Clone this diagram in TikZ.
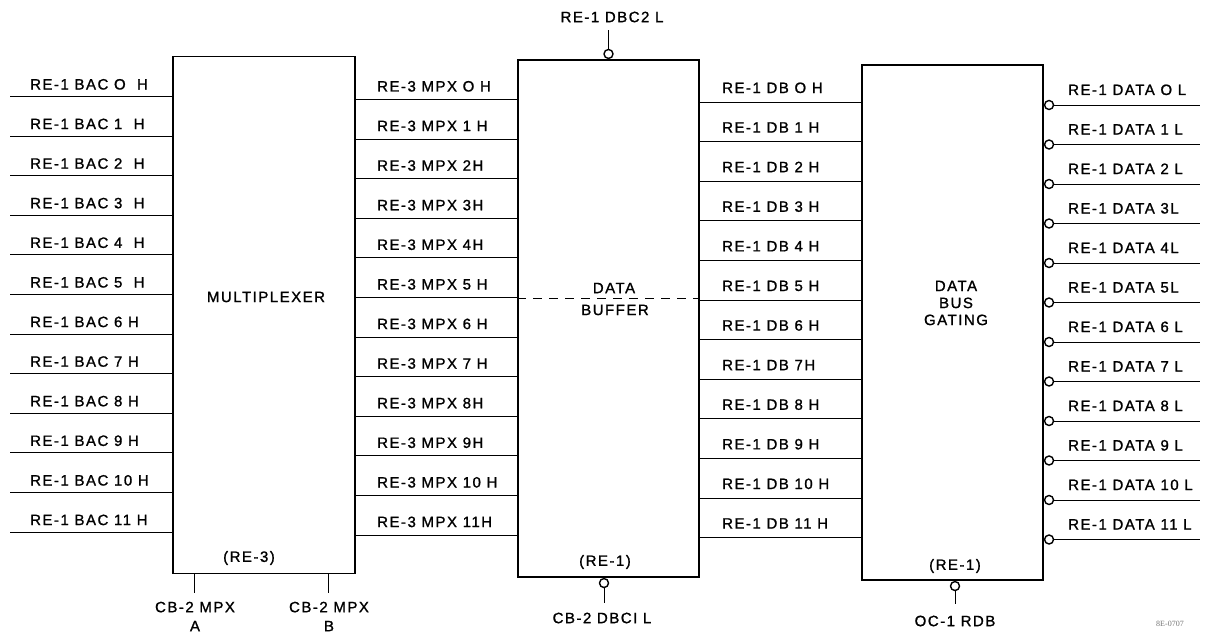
\documentclass[tikz,border=0pt]{standalone}
\usepackage{fontspec}
\usetikzlibrary{positioning,calc}
\newfontfamily\lblfont{Liberation Sans}[LetterSpace=10,FakeBold=1.2]
\newfontfamily\tagfont{Liberation Serif}
\tikzset{
  blk/.style={draw, rectangle, line width=1.7pt, inner sep=0pt},
  wire/.style={line width=0.9pt},
  bub/.style={draw, circle, fill=white, line width=1.4pt, minimum size=9pt, inner sep=0pt},
  sig/.style={anchor=base west, inner sep=0pt, font=\lblfont\fontsize{15}{16}\selectfont},
  ttl/.style={align=center, inner sep=0pt, font=\lblfont\fontsize{15}{17}\selectfont},
  pin/.style={align=center, inner sep=0pt, font=\lblfont\fontsize{15}{19}\selectfont},
}
\begin{document}
\begin{tikzpicture}[x=1pt,y=-1pt]
\useasboundingbox (0,0) rectangle (1207,634);
\node[blk, minimum width=182pt, minimum height=517pt] (mux) at (264,315) {};
\node[blk, minimum width=181pt, minimum height=517pt] (buf) at (608.5,318.5) {};
\node[blk, minimum width=181pt, minimum height=515pt] (gate) at (952.5,322.5) {};
\node[ttl] (muxl) at (266,297) {MULTIPLEXER};
\node[ttl] (bufl1) at (614,288) {DATA};
\node[ttl] (bufl2) at (615,310) {BUFFER};
\node[ttl] (gatel) at (956,303) {DATA\\BUS\\GATING};
\node[ttl] (muxre) at (249,558) {(RE-3)};
\node[ttl] (bufre) at (605,562) {(RE-1)};
\node[ttl] (gatere) at (955,566) {(RE-1)};
\coordinate (split) at (0,298);
\draw[wire, dash pattern=on 9pt off 7pt] (buf.west |- split) -- (buf.east |- split);
% bus address inputs
\node[sig] (ta0) at (30,89.5) {RE-1 BAC O\ \ H}; \coordinate (a0) at (10,96.5); \draw[wire] (a0) -- (a0 -| mux.west);
\node[sig] (ta1) at (30,129.1) {RE-1 BAC 1\ \ H}; \coordinate (a1) at (10,136.1); \draw[wire] (a1) -- (a1 -| mux.west);
\node[sig] (ta2) at (30,168.7) {RE-1 BAC 2\ \ H}; \coordinate (a2) at (10,175.7); \draw[wire] (a2) -- (a2 -| mux.west);
\node[sig] (ta3) at (30,208.3) {RE-1 BAC 3\ \ H}; \coordinate (a3) at (10,215.3); \draw[wire] (a3) -- (a3 -| mux.west);
\node[sig] (ta4) at (30,247.9) {RE-1 BAC 4\ \ H}; \coordinate (a4) at (10,254.9); \draw[wire] (a4) -- (a4 -| mux.west);
\node[sig] (ta5) at (30,287.5) {RE-1 BAC 5\ \ H}; \coordinate (a5) at (10,294.5); \draw[wire] (a5) -- (a5 -| mux.west);
\node[sig] (ta6) at (30,327.1) {RE-1 BAC 6 H}; \coordinate (a6) at (10,334.1); \draw[wire] (a6) -- (a6 -| mux.west);
\node[sig] (ta7) at (30,366.7) {RE-1 BAC 7 H}; \coordinate (a7) at (10,373.7); \draw[wire] (a7) -- (a7 -| mux.west);
\node[sig] (ta8) at (30,406.3) {RE-1 BAC 8 H}; \coordinate (a8) at (10,413.3); \draw[wire] (a8) -- (a8 -| mux.west);
\node[sig] (ta9) at (30,445.9) {RE-1 BAC 9 H}; \coordinate (a9) at (10,452.9); \draw[wire] (a9) -- (a9 -| mux.west);
\node[sig] (ta10) at (30,485.5) {RE-1 BAC 10 H}; \coordinate (a10) at (10,492.5); \draw[wire] (a10) -- (a10 -| mux.west);
\node[sig] (ta11) at (30,525.1) {RE-1 BAC 11 H}; \coordinate (a11) at (10,532.1); \draw[wire] (a11) -- (a11 -| mux.west);
% multiplexer outputs
\node[sig] (tm0) at (377,91.5) {RE-3 MPX O H}; \coordinate (m0) at (mux.east |- 0,99.5); \draw[wire] (m0) -- (m0 -| buf.west);
\node[sig] (tm1) at (377,131.1) {RE-3 MPX 1 H}; \coordinate (m1) at (mux.east |- 0,139.1); \draw[wire] (m1) -- (m1 -| buf.west);
\node[sig] (tm2) at (377,170.7) {RE-3 MPX 2H}; \coordinate (m2) at (mux.east |- 0,178.7); \draw[wire] (m2) -- (m2 -| buf.west);
\node[sig] (tm3) at (377,210.3) {RE-3 MPX 3H}; \coordinate (m3) at (mux.east |- 0,218.3); \draw[wire] (m3) -- (m3 -| buf.west);
\node[sig] (tm4) at (377,249.9) {RE-3 MPX 4H}; \coordinate (m4) at (mux.east |- 0,257.9); \draw[wire] (m4) -- (m4 -| buf.west);
\node[sig] (tm5) at (377,289.5) {RE-3 MPX 5 H}; \coordinate (m5) at (mux.east |- 0,297.5); \draw[wire] (m5) -- (m5 -| buf.west);
\node[sig] (tm6) at (377,329.1) {RE-3 MPX 6 H}; \coordinate (m6) at (mux.east |- 0,337.1); \draw[wire] (m6) -- (m6 -| buf.west);
\node[sig] (tm7) at (377,368.7) {RE-3 MPX 7 H}; \coordinate (m7) at (mux.east |- 0,376.7); \draw[wire] (m7) -- (m7 -| buf.west);
\node[sig] (tm8) at (377,408.3) {RE-3 MPX 8H}; \coordinate (m8) at (mux.east |- 0,416.3); \draw[wire] (m8) -- (m8 -| buf.west);
\node[sig] (tm9) at (377,447.9) {RE-3 MPX 9H}; \coordinate (m9) at (mux.east |- 0,455.9); \draw[wire] (m9) -- (m9 -| buf.west);
\node[sig] (tm10) at (377,487.5) {RE-3 MPX 10 H}; \coordinate (m10) at (mux.east |- 0,495.5); \draw[wire] (m10) -- (m10 -| buf.west);
\node[sig] (tm11) at (377,527.1) {RE-3 MPX 11H}; \coordinate (m11) at (mux.east |- 0,535.1); \draw[wire] (m11) -- (m11 -| buf.west);
% data buffer outputs
\node[sig] (td0) at (722,93) {RE-1 DB O H}; \coordinate (d0) at (buf.east |- 0,102); \draw[wire] (d0) -- (d0 -| gate.west);
\node[sig] (td1) at (722,132.6) {RE-1 DB 1 H}; \coordinate (d1) at (buf.east |- 0,141.6); \draw[wire] (d1) -- (d1 -| gate.west);
\node[sig] (td2) at (722,172.2) {RE-1 DB 2 H}; \coordinate (d2) at (buf.east |- 0,181.2); \draw[wire] (d2) -- (d2 -| gate.west);
\node[sig] (td3) at (722,211.8) {RE-1 DB 3 H}; \coordinate (d3) at (buf.east |- 0,220.8); \draw[wire] (d3) -- (d3 -| gate.west);
\node[sig] (td4) at (722,251.4) {RE-1 DB 4 H}; \coordinate (d4) at (buf.east |- 0,260.4); \draw[wire] (d4) -- (d4 -| gate.west);
\node[sig] (td5) at (722,291) {RE-1 DB 5 H}; \coordinate (d5) at (buf.east |- 0,300); \draw[wire] (d5) -- (d5 -| gate.west);
\node[sig] (td6) at (722,330.6) {RE-1 DB 6 H}; \coordinate (d6) at (buf.east |- 0,339.6); \draw[wire] (d6) -- (d6 -| gate.west);
\node[sig] (td7) at (722,370.2) {RE-1 DB 7H}; \coordinate (d7) at (buf.east |- 0,379.2); \draw[wire] (d7) -- (d7 -| gate.west);
\node[sig] (td8) at (722,409.8) {RE-1 DB 8 H}; \coordinate (d8) at (buf.east |- 0,418.8); \draw[wire] (d8) -- (d8 -| gate.west);
\node[sig] (td9) at (722,449.4) {RE-1 DB 9 H}; \coordinate (d9) at (buf.east |- 0,458.4); \draw[wire] (d9) -- (d9 -| gate.west);
\node[sig] (td10) at (722,489) {RE-1 DB 10 H}; \coordinate (d10) at (buf.east |- 0,498); \draw[wire] (d10) -- (d10 -| gate.west);
\node[sig] (td11) at (722,528.6) {RE-1 DB 11 H}; \coordinate (d11) at (buf.east |- 0,537.6); \draw[wire] (d11) -- (d11 -| gate.west);
% gated data outputs
\node[sig] (tq0) at (1068,95) {RE-1 DATA O L}; \node[bub, anchor=west] (n0) at (gate.east |- 0,105) {}; \coordinate (q0) at (1200,105); \draw[wire] (n0) -- (q0);
\node[sig] (tq1) at (1068,134.5) {RE-1 DATA 1 L}; \node[bub, anchor=west] (n1) at (gate.east |- 0,144.5) {}; \coordinate (q1) at (1200,144.5); \draw[wire] (n1) -- (q1);
\node[sig] (tq2) at (1068,174) {RE-1 DATA 2 L}; \node[bub, anchor=west] (n2) at (gate.east |- 0,184) {}; \coordinate (q2) at (1200,184); \draw[wire] (n2) -- (q2);
\node[sig] (tq3) at (1068,213.5) {RE-1 DATA 3L}; \node[bub, anchor=west] (n3) at (gate.east |- 0,223.5) {}; \coordinate (q3) at (1200,223.5); \draw[wire] (n3) -- (q3);
\node[sig] (tq4) at (1068,253) {RE-1 DATA 4L}; \node[bub, anchor=west] (n4) at (gate.east |- 0,263) {}; \coordinate (q4) at (1200,263); \draw[wire] (n4) -- (q4);
\node[sig] (tq5) at (1068,292.5) {RE-1 DATA 5L}; \node[bub, anchor=west] (n5) at (gate.east |- 0,302.5) {}; \coordinate (q5) at (1200,302.5); \draw[wire] (n5) -- (q5);
\node[sig] (tq6) at (1068,332) {RE-1 DATA 6 L}; \node[bub, anchor=west] (n6) at (gate.east |- 0,342) {}; \coordinate (q6) at (1200,342); \draw[wire] (n6) -- (q6);
\node[sig] (tq7) at (1068,371.5) {RE-1 DATA 7 L}; \node[bub, anchor=west] (n7) at (gate.east |- 0,381.5) {}; \coordinate (q7) at (1200,381.5); \draw[wire] (n7) -- (q7);
\node[sig] (tq8) at (1068,411) {RE-1 DATA 8 L}; \node[bub, anchor=west] (n8) at (gate.east |- 0,421) {}; \coordinate (q8) at (1200,421); \draw[wire] (n8) -- (q8);
\node[sig] (tq9) at (1068,450.5) {RE-1 DATA 9 L}; \node[bub, anchor=west] (n9) at (gate.east |- 0,460.5) {}; \coordinate (q9) at (1200,460.5); \draw[wire] (n9) -- (q9);
\node[sig] (tq10) at (1068,490) {RE-1 DATA 10 L}; \node[bub, anchor=west] (n10) at (gate.east |- 0,500) {}; \coordinate (q10) at (1200,500); \draw[wire] (n10) -- (q10);
\node[sig] (tq11) at (1068,529.5) {RE-1 DATA 11 L}; \node[bub, anchor=west] (n11) at (gate.east |- 0,539.5) {}; \coordinate (q11) at (1200,539.5); \draw[wire] (n11) -- (q11);
% control pins
\node[pin] (tdbc2) at (612,17) {RE-1 DBC2 L};
\node[bub, anchor=south] (dbc2) at (608.5,0 |- buf.north) {};
\coordinate (dbc2e) at (608.5,30); \draw[wire] (dbc2) -- (dbc2e);
\coordinate (mpxa) at (194,593); \draw[wire] (mpxa |- mux.south) -- (mpxa);
\coordinate (mpxb) at (328,593); \draw[wire] (mpxb |- mux.south) -- (mpxb);
\node[pin] (tmpxa) at (195,616.5) {CB-2 MPX\\A};
\node[pin] (tmpxb) at (329,616.5) {CB-2 MPX\\B};
\node[bub, anchor=north] (dbc1) at (604,0 |- buf.south) {};
\coordinate (dbc1e) at (604,603); \draw[wire] (dbc1) -- (dbc1e);
\node[pin] (tdbc1) at (602,618) {CB-2 DBCI L};
\node[bub, anchor=north] (rdb) at (955,0 |- gate.south) {};
\coordinate (rdbe) at (955,604); \draw[wire] (rdb) -- (rdbe);
\node[pin] (trdb) at (955,621) {OC-1 RDB};
\node[inner sep=0pt, text=black!55, font=\tagfont\fontsize{8}{9}\selectfont] (tag) at (1170,624) {8E-0707};
\end{tikzpicture}
\end{document}
